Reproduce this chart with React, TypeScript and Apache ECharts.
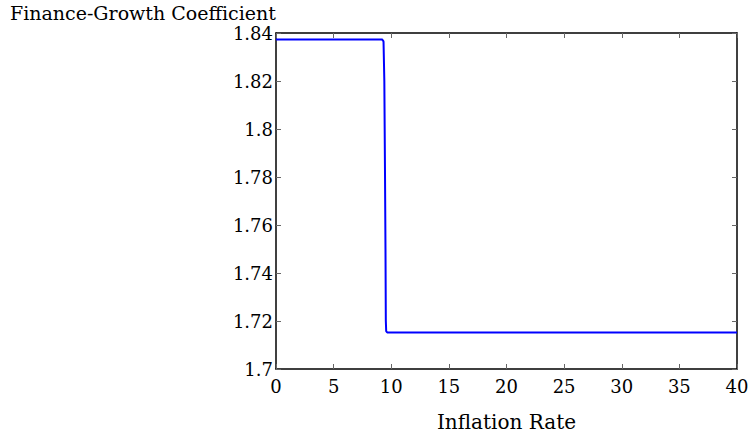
import React, { useEffect, useRef } from "react";
import * as echarts from "echarts";

const titleText = "Finance-Growth Coefficient";
const xAxisName = "Inflation Rate";
const inflation = [0, 9.2, 9.33, 9.4, 9.43, 9.46, 9.5, 9.53, 9.56, 9.65, 40];
const coefficient = [1.8373, 1.8373, 1.8365, 1.82, 1.8, 1.78, 1.75, 1.72, 1.7158, 1.7152, 1.7152];
const xMin = 0;
const xMax = 40;
const xStep = 5;
const yMin = 1.7;
const yMax = 1.84;
const yStep = 0.02;

const FONT = "DejaVu Serif";

export default function App() {
  const ref = useRef<HTMLDivElement>(null);
  useEffect(() => {
    if (!ref.current) return;
    const chart = echarts.init(ref.current, undefined, { renderer: "svg" });
    const tickStyle = { show: true, inside: true, length: 5, lineStyle: { color: "#666", width: 1 } };
    const axisLine = { show: true, onZero: false, lineStyle: { color: "#000", width: 1.5 } };
    chart.setOption({
      animation: false,
      backgroundColor: "#fff",
      textStyle: { fontFamily: FONT },
      title: {
        text: titleText,
        left: 10,
        top: 3,
        padding: 0,
        textStyle: { fontFamily: FONT, fontSize: 19, fontWeight: "normal", color: "#000" },
      },
      grid: { left: 276, right: 19, top: 33, bottom: 70, containLabel: false },
      xAxis: [
        {
          type: "value",
          min: xMin,
          max: xMax,
          interval: xStep,
          position: "bottom",
          name: xAxisName,
          nameLocation: "middle",
          nameGap: 43,
          nameTextStyle: { fontFamily: FONT, fontSize: 20, color: "#000" },
          axisLine,
          axisTick: tickStyle,
          splitLine: { show: false },
          axisLabel: { fontFamily: FONT, fontSize: 18, color: "#000", margin: 8 },
        },
        {
          type: "value",
          min: xMin,
          max: xMax,
          interval: xStep,
          position: "top",
          axisLine,
          axisTick: tickStyle,
          splitLine: { show: false },
          axisLabel: { show: false },
        },
      ],
      yAxis: [
        {
          type: "value",
          min: yMin,
          max: yMax,
          interval: yStep,
          position: "left",
          axisLine,
          axisTick: tickStyle,
          splitLine: { show: false },
          axisLabel: {
            fontFamily: FONT,
            fontSize: 18,
            color: "#000",
            margin: 3,
            padding: [9, 0, 0, 0],
          },
        },
        {
          type: "value",
          min: yMin,
          max: yMax,
          interval: yStep,
          position: "right",
          axisLine,
          axisTick: tickStyle,
          splitLine: { show: false },
          axisLabel: { show: false },
        },
      ],
      series: [
        {
          type: "line",
          data: inflation.map((x, i) => [x, coefficient[i]]),
          showSymbol: false,
          symbol: "none",
          lineStyle: { color: "#0000ff", width: 2 },
          xAxisIndex: 0,
          yAxisIndex: 0,
        },
      ],
    });
    return () => chart.dispose();
  }, []);
  return (
    <div
      ref={ref}
      style={{ position: "absolute", left: 0, top: 0, width: 756, height: 439 }}
    />
  );
}
